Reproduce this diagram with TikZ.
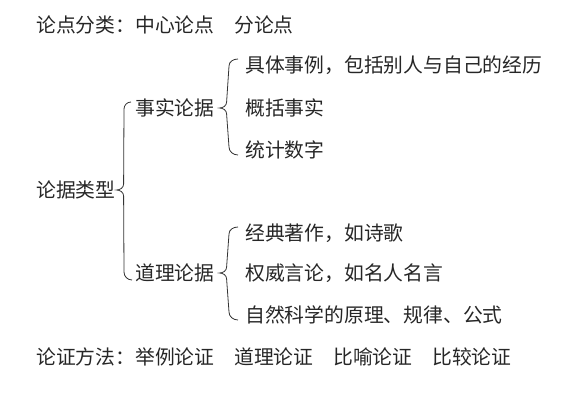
\documentclass[tikz,border=0pt]{standalone}
\usepackage{fontspec}
\setmainfont{Noto Sans CJK SC}
\usetikzlibrary{positioning}

\begin{document}
\begin{tikzpicture}[x=1pt, y=1pt,
txt/.style={anchor=west, inner sep=0pt, font=\fontsize{19.8}{22}\selectfont, text=black!85},
brace/.style={line width=0.8pt, black!80}
]
\useasboundingbox (0,0) rectangle (586,-401);
% top line
\node[txt] (points) at (36,-25) {论点分类：中心论点　分论点};
% tree
\node[txt] (type) at (36,-190) {论据类型};
\node[txt] (fact) at (135,-108) {事实论据};
\node[txt] (reason) at (135,-273) {道理论据};
\node[txt] (ex1) at (245,-65) {具体事例，包括别人与自己的经历};
\node[txt] (ex2) at (245,-108) {概括事实};
\node[txt] (ex3) at (245,-150) {统计数字};
\node[txt] (rs1) at (245,-233) {经典著作，如诗歌};
\node[txt] (rs2) at (245,-273) {权威言论，如名人名言};
\node[txt] (rs3) at (245,-315) {自然科学的原理、规律、公式};
% bottom line
\node[txt] (methods) at (36,-357) {论证方法：举例论证　道理论证　比喻论证　比较论证};
% braces
\draw[brace] ([xshift=-4pt,yshift=6pt]fact.west) to[out=180,in=90] ++(-7,-7)
  -- ([xshift=8pt,yshift=6pt]type.east) to[out=-90,in=0] ([xshift=1pt]type.east)
  to[out=0,in=90] ([xshift=8pt,yshift=-6pt]type.east)
  -- ([xshift=-11pt,yshift=1pt]reason.west) to[out=-90,in=180] ([xshift=-3pt,yshift=-7pt]reason.west);
\draw[brace] ([xshift=-7pt,yshift=6pt]ex1.west) to[out=180,in=90] ++(-9,-7)
  -- ([xshift=12pt,yshift=6pt]fact.east) to[out=-90,in=0] ([xshift=5pt]fact.east)
  to[out=0,in=90] ([xshift=12pt,yshift=-6pt]fact.east)
  -- ([xshift=-16pt,yshift=3pt]ex3.west) to[out=-90,in=180] ([xshift=-7pt,yshift=-5pt]ex3.west);
\draw[brace] ([xshift=-7pt,yshift=6pt]rs1.west) to[out=180,in=90] ++(-9,-7)
  -- ([xshift=12pt,yshift=6pt]reason.east) to[out=-90,in=0] ([xshift=5pt]reason.east)
  to[out=0,in=90] ([xshift=12pt,yshift=-6pt]reason.east)
  -- ([xshift=-16pt,yshift=3pt]rs3.west) to[out=-90,in=180] ([xshift=-7pt,yshift=-5pt]rs3.west);
\end{tikzpicture}
\end{document}
